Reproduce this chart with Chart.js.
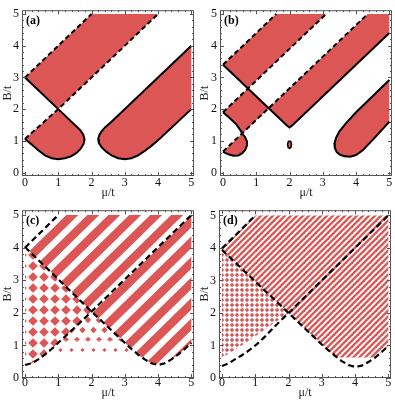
<!DOCTYPE html>
<html>
<head>
<meta charset="utf-8">
<script src="https://cdn.jsdelivr.net/npm/chart.js@4.4.1/dist/chart.umd.min.js"></script>
<style>
  html, body { margin: 0; padding: 0; background: #fff; }
  #wrap { position: relative; width: 395px; height: 407px; overflow: hidden; }
  canvas { position: absolute; }
</style>
</head>
<body>
<div id="wrap">
  <canvas id="pa" width="197" height="200" style="left:0;top:0"></canvas>
  <canvas id="pb" width="198" height="200" style="left:197px;top:0"></canvas>
  <canvas id="pc" width="197" height="207" style="left:0;top:200px"></canvas>
  <canvas id="pd" width="198" height="207" style="left:197px;top:200px"></canvas>
</div>
<script>
const RED = 'rgb(221,86,86)';
const SERIF = "'Liberation Serif', 'DejaVu Serif', serif";

// axis ticks
const majorTicks = [0, 1, 2, 3, 4, 5];
const minorTicks = [0.2, 0.4, 0.6, 0.8, 1.2, 1.4, 1.6, 1.8, 2.2, 2.4, 2.6, 2.8,
                    3.2, 3.4, 3.6, 3.8, 4.2, 4.4, 4.6, 4.8];

// ---- panel (a) : [mu/t, B/t] points
const aBandTop = [[0, 3], [2, 5], [4, 5], [1, 2], [0, 3]];
const aLobeLeft = [[0, 1.06], [1, 2], [1.5, 1.5], [1.65, 1.35], [1.75, 1.2], [1.79, 1.05], [1.76, 0.9],
  [1.68, 0.76], [1.55, 0.62], [1.38, 0.51], [1.2, 0.45], [1, 0.42], [0.8, 0.45], [0.6, 0.54],
  [0.4, 0.7], [0.2, 0.88], [0, 1.06]];
const aLobeRight = [[5, 4], [2.6, 1.6], [2.42, 1.44], [2.3, 1.3], [2.23, 1.17], [2.2, 1.05], [2.22, 0.93],
  [2.3, 0.8], [2.45, 0.65], [2.62, 0.53], [2.8, 0.45], [3, 0.42], [3.2, 0.45], [3.4, 0.54],
  [3.6, 0.68], [3.8, 0.84], [4, 1.02], [5, 2], [5, 4]];
const aSolid = [[0, 3], [1, 2], [1.5, 1.5], [1.65, 1.35], [1.75, 1.2], [1.79, 1.05], [1.76, 0.9],
  [1.68, 0.76], [1.55, 0.62], [1.38, 0.51], [1.2, 0.45], [1, 0.42], [0.8, 0.45], [0.6, 0.54],
  [0.4, 0.7], [0.2, 0.88], [0, 1.06]];
const aDashUpper = [[0, 3], [2, 5]];
const aDashLower = [[0, 1.06], [1, 2], [4, 5]];

// ---- panel (b)
const bBandTop = [[0, 3.4], [1.6, 5], [3.1, 5], [0.75, 2.65], [0, 3.4]];
const bBandLeft = [[0, 1.9], [0.75, 2.65], [1.375, 2.025], [0.58, 1.23], [0.52, 1.34], [0.4, 1.52],
  [0.2, 1.72], [0, 1.9]];
const bBandMid = [[1.375, 2.025], [4.35, 5], [5, 5], [5, 4.4], [2.08, 1.48], [2, 1.42], [1.92, 1.48],
  [1.375, 2.025]];
const bLobe = [[0, 0.66], [0.58, 1.23], [0.66, 1.12], [0.72, 0.98], [0.72, 0.85], [0.67, 0.72],
  [0.58, 0.61], [0.46, 0.54], [0.32, 0.53], [0.18, 0.57], [0.08, 0.61], [0, 0.66]];
const bDot = [[2, 1.0], [2.04, 0.97], [2.06, 0.88], [2.04, 0.79], [2, 0.76], [1.96, 0.79], [1.94, 0.88],
  [1.96, 0.97], [2, 1.0]];
const bLobeRight = [[5, 2.92], [4, 1.9], [3.7, 1.56], [3.5, 1.3], [3.4, 1.1], [3.35, 0.92], [3.36, 0.78],
  [3.42, 0.64], [3.52, 0.56], [3.66, 0.51], [3.82, 0.5], [4, 0.55], [4.2, 0.7], [4.5, 1.03],
  [5, 1.6], [5, 2.92]];
const bSolidV = [[0, 3.4], [1.92, 1.48], [2, 1.42], [2.08, 1.48], [5, 4.4]];
const bSolidCurve = [[0, 1.9], [0.2, 1.72], [0.4, 1.52], [0.52, 1.34], [0.58, 1.23], [0.66, 1.12],
  [0.72, 0.98], [0.72, 0.85], [0.67, 0.72], [0.58, 0.61], [0.46, 0.54], [0.32, 0.53], [0.18, 0.57],
  [0.08, 0.61], [0, 0.66]];
const bDash1 = [[0, 3.4], [1.6, 5]];
const bDash2 = [[0, 1.9], [3.1, 5]];
const bDash3 = [[0, 0.66], [4.35, 5]];

// ---- panel (c)
const cLineTop = [[0, 4], [1, 5]];
const cLineDown = [[0, 4.02], [1, 3.03], [2, 2.04], [3, 1.08], [3.2, 0.89], [3.4, 0.72], [3.6, 0.57],
  [3.8, 0.45], [4, 0.4], [4.2, 0.45], [4.4, 0.57], [4.6, 0.72], [4.8, 0.89], [5, 1.08]];
const cLineUp = [[0, 0.4], [0.2, 0.45], [0.4, 0.57], [0.6, 0.72], [0.8, 0.89], [1, 1.08], [1.5, 1.55],
  [2, 2.04], [5, 5]];
// stripe edges as intercepts of B = mu + c
const cStripeLo = [3.4, 2.77, 2.14, 1.51, 0.88, 0.25, -0.38, -1.01, -1.64, -2.27, -2.9, -3.53, -4.16];
const cStripeHi = [3.76, 3.13, 2.5, 1.87, 1.24, 0.61, -0.02, -0.65, -1.28, -1.91, -2.54, -3.17, -3.8];
const cDotsUpper = [[1.07, 1.15], [1.5, 1.55], [2, 2.04], [2.5, 1.56], [2.93, 1.15], [1.07, 1.15]];
const cDotsLower = [[0.65, 0.78], [0.8, 0.89], [1, 1.08], [1.07, 1.15], [2.93, 1.15], [3, 1.08],
  [3.2, 0.89], [3.33, 0.78], [0.65, 0.78]];

// ---- panel (d)
const dLineTop = [[0, 3.98], [1, 5]];
const dLineDown = [[0, 3.94], [1, 2.97], [2, 2.0], [3, 1.03], [3.2, 0.85], [3.4, 0.68], [3.6, 0.52],
  [3.8, 0.4], [4, 0.34], [4.2, 0.38], [4.4, 0.49], [4.6, 0.63], [4.8, 0.8], [5, 0.99]];
const dLineUp = [[0, 0.37], [0.2, 0.45], [0.4, 0.58], [0.6, 0.7], [0.8, 0.84], [1.05, 1.04],
  [1.3, 1.28], [1.6, 1.6], [2, 2.0], [5, 5]];
const dStripeZone = [[0, 3.98], [1, 5], [5, 5], [5, 0.99], [4.8, 0.8], [4.62, 0.63], [3.45, 0.63],
  [3.2, 0.85], [3, 1.03], [2, 2.0], [1, 2.97], [0, 3.94], [0, 3.98]];
const dCheckerZone = [[0, 0.62], [0.4, 0.88], [0.8, 1.14], [1.3, 1.5], [2, 2.0], [1, 2.97], [0, 3.94],
  [0, 0.62]];

// ---- fill textures
function tile(w, h, draw) {
  const c = document.createElement('canvas');
  c.width = w; c.height = h;
  const g = c.getContext('2d');
  g.fillStyle = '#fff';
  g.fillRect(0, 0, w, h);
  g.fillStyle = RED;
  draw(g, w, h);
  return g.createPattern(c, 'repeat');
}
function diamond(g, cx, cy, r) {
  g.beginPath();
  g.moveTo(cx - r, cy); g.lineTo(cx, cy - r); g.lineTo(cx + r, cy); g.lineTo(cx, cy + r);
  g.closePath(); g.fill();
}
// diamonds on the tile corners only -> checkerboard
const checker = r => (g, w, h) => {
  [[0, 0], [w, 0], [0, h], [w, h]].forEach(([x, y]) => diamond(g, x, y, r));
};
// corners plus centre -> staggered dots
const dots = r => (g, w, h) => {
  [[0, 0], [w, 0], [0, h], [w, h], [w / 2, h / 2]].forEach(([x, y]) => diamond(g, x, y, r));
};
const stripes = sw => (g, s) => {
  for (let a = 0; a <= 2 * s; a += s) {
    g.beginPath();
    g.moveTo(a, 0); g.lineTo(a + sw, 0); g.lineTo(a + sw - s, s); g.lineTo(a - s, s);
    g.closePath(); g.fill();
  }
};

// ---- dataset helpers
function region(points, color) {
  return { data: points, showLine: true, fill: 'shape', backgroundColor: color,
    borderColor: 'rgba(0,0,0,0)', borderWidth: 0, pointRadius: 0, tension: 0 };
}
function curve(points, dash, width) {
  return { data: points, showLine: true, fill: false, borderColor: '#000',
    borderWidth: width || 2, borderDash: dash || [], pointRadius: 0, tension: 0 };
}
function band(lo, hi) {
  return [[-1, lo - 1], [6, lo + 6], [6, hi + 6], [-1, hi - 1], [-1, lo - 1]];
}
// first item ends up at the back
function stack(list) {
  list.forEach((d, i) => { d.order = list.length - i; });
  return list;
}

const framePlugin = {
  id: 'frame',
  afterDatasetsDraw(chart, args, opts) {
    const { ctx, chartArea: a } = chart;
    const sx = chart.scales.x, sy = chart.scales.y;
    ctx.save();
    ctx.strokeStyle = '#555';
    ctx.lineWidth = 1;
    ctx.strokeRect(a.left + 0.5, a.top + 0.5, a.width - 1, a.height - 1);
    ctx.beginPath();
    const marks = (vals, len) => vals.forEach(v => {
      const px = Math.round(sx.getPixelForValue(v)) + 0.5;
      ctx.moveTo(px, a.bottom); ctx.lineTo(px, a.bottom - len);
      ctx.moveTo(px, a.top); ctx.lineTo(px, a.top + len);
      const py = Math.round(sy.getPixelForValue(v)) + 0.5;
      ctx.moveTo(a.left, py); ctx.lineTo(a.left + len, py);
      ctx.moveTo(a.right, py); ctx.lineTo(a.right - len, py);
    });
    marks(majorTicks, 4);
    marks(minorTicks, 2);
    ctx.stroke();
    ctx.fillStyle = '#000';
    ctx.font = 'bold 12px ' + SERIF;
    ctx.fillText(opts.label, a.left + 4, a.top + 14);
    ctx.restore();
  }
};

function makeChart(id, label, datasets, L) {
  const tickFont = { family: SERIF, size: 12 };
  new Chart(document.getElementById(id), {
    type: 'scatter',
    data: { datasets: stack(datasets) },
    options: {
      responsive: false,
      animation: false,
      events: [],
      layout: { padding: { left: 0, top: L.top, right: L.right, bottom: 0 } },
      plugins: { legend: { display: false }, tooltip: { enabled: false }, frame: { label: label } },
      scales: {
        x: {
          type: 'linear', min: L.xr[0], max: L.xr[1],
          afterBuildTicks: s => { s.ticks = majorTicks.map(v => ({ value: v })); },
          afterFit: s => { s.height = L.xh; },
          grid: { display: false, drawTicks: false },
          border: { display: false },
          ticks: { padding: L.tickPad, color: '#111', font: tickFont, maxRotation: 0, autoSkip: false },
          title: { display: true, text: 'μ/t', color: '#222', font: tickFont,
                   padding: { top: 0, bottom: L.titlePad } }
        },
        y: {
          type: 'linear', min: L.yr[0], max: L.yr[1],
          afterBuildTicks: s => { s.ticks = majorTicks.map(v => ({ value: v })); },
          afterFit: s => { s.width = L.yw; },
          grid: { display: false, drawTicks: false },
          border: { display: false },
          ticks: { padding: 3, color: '#111', font: tickFont, autoSkip: false },
          title: { display: true, text: 'B/t', color: '#222', font: tickFont,
                   padding: { top: 1, bottom: 0 } }
        }
      }
    },
    plugins: [framePlugin]
  });
}

const dashAB = [5, 3];
const dashCD = [6, 3.5];
const XR = [-0.09, 5.08];

// (a)
makeChart('pa', '(a)', [
  region(aBandTop, RED),
  region(aLobeLeft, RED),
  region(aLobeRight, RED),
  curve(aSolid),
  curve(aLobeRight.slice(0, -1)),
  curve(aDashUpper, dashAB),
  curve(aDashLower, dashAB)
], { top: 2, right: 3, yw: 22, xh: 24, tickPad: 0, titlePad: 0, xr: XR, yr: [-0.11, 5.12] });

// (b)
makeChart('pb', '(b)', [
  region(bBandTop, RED),
  region(bBandLeft, RED),
  region(bBandMid, RED),
  region(bLobe, RED),
  region(bDot, RED),
  region(bLobeRight, RED),
  curve(bSolidV),
  curve(bSolidCurve),
  curve(bDot, [], 1.5),
  curve(bLobeRight.slice(0, -1)),
  curve(bDash1, dashAB),
  curve(bDash2, dashAB),
  curve(bDash3, dashAB)
], { top: 2, right: 3, yw: 23, xh: 24, tickPad: 0, titlePad: 0, xr: XR, yr: [-0.11, 5.12] });

// (c)
const cChecker = cLineUp.slice(0, 8).concat(cLineDown.slice(0, 2).reverse(), [cLineUp[0]]);
const cMaskUpper = [[-1, 3]].concat(cLineTop, [[5, 5], [5, 0], [6, 0], [6, 6], [-1, 6], [-1, 3]]);
const cMaskLower = [[-1, cLineDown[0][1]]].concat(cLineDown, [[5, -1], [-1, -1], [-1, cLineDown[0][1]]]);
makeChart('pc', '(c)', [
  ...cStripeLo.map((lo, i) => region(band(lo, cStripeHi[i]), RED)),
  region(cMaskUpper, '#fff'),
  region(cMaskLower, '#fff'),
  region(cChecker, tile(11, 11, checker(4.8))),
  region(cDotsUpper, tile(11, 20, dots(3.2))),
  region(cDotsLower, tile(11, 20, dots(2.1))),
  curve(cLineTop, dashCD, 2.2),
  curve(cLineDown, dashCD, 2.2),
  curve(cLineUp, dashCD, 2.2)
], { top: 5, right: 3, yw: 22, xh: 29, tickPad: -2, titlePad: 7, xr: XR, yr: [0, 5.15] });

// (d)
makeChart('pd', '(d)', [
  region(dStripeZone, tile(6, 6, stripes(3.3))),
  region(dCheckerZone, tile(5, 5, checker(2.2))),
  curve(dLineTop, dashCD, 2.2),
  curve(dLineDown, dashCD, 2.2),
  curve(dLineUp, dashCD, 2.2)
], { top: 4, right: 4, yw: 22, xh: 29, tickPad: -2, titlePad: 7, xr: XR, yr: [0, 5.16] });
</script>
</body>
</html>
